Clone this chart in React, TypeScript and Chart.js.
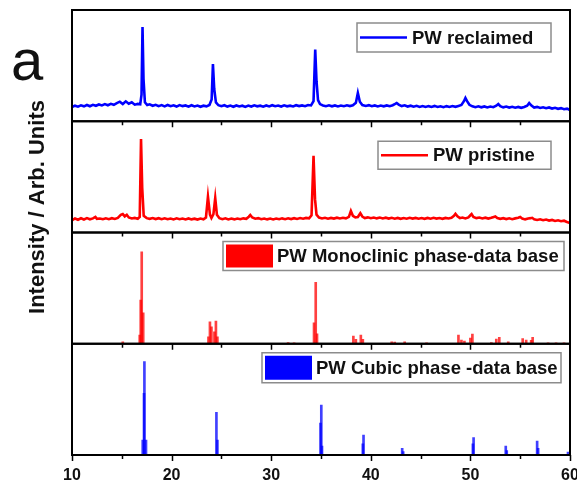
import { useEffect, useRef } from 'react';
import { Chart, registerables } from 'chart.js';

Chart.register(...registerables);

// ---- Data (2θ in degrees, intensity in arbitrary units, 0-100 per panel) ----
const xTickValues = [10, 20, 30, 40, 50, 60];

const reclaimedAngle = [
  10.0, 10.3, 10.6, 10.9, 11.2, 11.5, 11.8, 12.1, 12.4, 12.7, 13.0, 13.3, 13.6, 13.9, 14.2, 14.5, 14.8, 15.1, 15.4, 15.7,
  16.0, 16.3, 16.6, 16.85, 16.98, 17.08, 17.18, 17.32, 17.55, 17.8, 18.1, 18.4, 18.7, 19.0, 19.3, 19.6, 19.9, 20.2, 20.5, 20.8,
  21.1, 21.4, 21.7, 22.0, 22.3, 22.6, 22.9, 23.2, 23.5, 23.8, 24.02, 24.15, 24.28, 24.45, 24.7, 25.0, 25.3, 25.6, 25.9, 26.2,
  26.5, 26.8, 27.1, 27.4, 27.7, 28.0, 28.3, 28.6, 28.9, 29.2, 29.5, 29.8, 30.1, 30.4, 30.7, 31.0, 31.3, 31.6, 31.9, 32.2,
  32.5, 32.8, 33.1, 33.4, 33.7, 34.0, 34.25, 34.42, 34.55, 34.7, 34.9, 35.2, 35.5, 35.8, 36.1, 36.4, 36.7, 37.0, 37.3, 37.6,
  37.9, 38.2, 38.5, 38.7, 38.9, 39.15, 39.5, 39.8, 40.1, 40.4, 40.7, 41.0, 41.3, 41.6, 41.9, 42.2, 42.45, 42.6, 42.8, 43.1,
  43.4, 43.7, 44.0, 44.3, 44.6, 44.9, 45.2, 45.5, 45.8, 46.1, 46.4, 46.7, 47.0, 47.3, 47.6, 47.9, 48.2, 48.5, 48.8, 49.1,
  49.35, 49.5, 49.65, 49.9, 50.2, 50.5, 50.8, 51.1, 51.4, 51.7, 52.0, 52.3, 52.6, 52.8, 53.0, 53.3, 53.6, 53.9, 54.2, 54.5,
  54.8, 55.1, 55.4, 55.7, 55.9, 56.1, 56.4, 56.7, 57.0, 57.3, 57.6, 57.9, 58.2, 58.5, 58.8, 59.1, 59.4, 59.7, 60.0,
];
const reclaimedIntensity = [
  12.8, 14.0, 13.1, 14.3, 13.4, 14.6, 13.5, 14.8, 13.9, 15.1, 14.2, 15.4, 14.4, 15.7, 14.8, 16.3, 17.6, 15.5, 17.9, 15.8,
  17.0, 14.9, 15.6, 15.2, 24.0, 84.7, 38.0, 17.0, 14.6, 15.2, 13.9, 14.8, 13.6, 14.5, 13.4, 14.6, 13.5, 14.3, 13.2, 14.5,
  13.6, 14.2, 13.1, 14.4, 13.3, 14.1, 13.0, 14.0, 13.4, 14.6, 19.5, 51.5, 29.0, 17.0, 14.4, 13.5, 14.4, 13.2, 14.1, 13.0,
  14.2, 13.3, 14.0, 12.9, 14.1, 13.2, 14.3, 13.4, 14.0, 13.1, 14.2, 13.3, 14.4, 13.5, 14.1, 13.2, 14.3, 13.4, 14.0, 13.3,
  14.4, 13.6, 14.2, 13.5, 14.6, 14.2, 18.0, 64.5, 36.0, 19.0, 15.4, 14.2, 13.5, 14.3, 13.4, 14.2, 13.3, 14.1, 13.5, 14.3,
  13.6, 14.4, 16.5, 25.4, 17.5, 14.6, 13.8, 14.5, 13.5, 14.2, 13.3, 14.1, 13.4, 14.2, 13.5, 14.4, 15.6, 16.4, 15.0, 13.6,
  14.3, 13.2, 14.0, 13.1, 13.9, 12.9, 13.7, 12.8, 13.6, 12.9, 13.8, 12.8, 13.5, 12.7, 13.6, 12.9, 13.7, 13.0, 13.8, 14.6,
  18.0, 20.9, 18.3, 14.8, 13.4, 12.6, 13.4, 12.5, 13.3, 12.4, 13.2, 12.6, 14.0, 15.5, 13.6, 12.5, 13.2, 12.3, 13.0, 12.2,
  12.9, 12.1, 12.8, 14.0, 16.4, 14.3, 12.3, 12.9, 11.9, 12.6, 11.7, 12.4, 11.4, 12.1, 11.2, 11.8, 10.8, 11.3, 10.1,
];

const pristineAngle = [
  10.0, 10.3, 10.6, 10.9, 11.2, 11.5, 11.8, 12.1, 12.35, 12.5, 12.8, 13.1, 13.4, 13.7, 14.0, 14.3, 14.6, 14.9, 15.1, 15.3,
  15.5, 15.7, 16.0, 16.3, 16.6, 16.8, 16.93, 17.05, 17.2, 17.5, 17.8, 18.1, 18.4, 18.7, 19.0, 19.3, 19.6, 19.9, 20.2, 20.5,
  20.8, 21.1, 21.4, 21.7, 22.0, 22.3, 22.6, 22.9, 23.2, 23.45, 23.65, 23.85, 24.0, 24.2, 24.38, 24.55, 24.8, 25.1, 25.4, 25.7,
  26.0, 26.3, 26.6, 26.9, 27.2, 27.5, 27.75, 27.9, 28.1, 28.4, 28.7, 29.0, 29.3, 29.6, 29.9, 30.2, 30.5, 30.8, 31.1, 31.4,
  31.7, 32.0, 32.3, 32.6, 32.9, 33.2, 33.5, 33.8, 34.05, 34.25, 34.4, 34.55, 34.8, 35.1, 35.4, 35.7, 36.0, 36.3, 36.6, 36.9,
  37.2, 37.5, 37.8, 38.0, 38.2, 38.45, 38.7, 38.95, 39.15, 39.4, 39.7, 40.0, 40.3, 40.6, 40.9, 41.2, 41.5, 41.8, 42.1, 42.4,
  42.7, 43.0, 43.3, 43.6, 43.9, 44.2, 44.5, 44.8, 45.1, 45.4, 45.7, 46.0, 46.3, 46.6, 46.9, 47.2, 47.5, 47.8, 48.1, 48.35,
  48.5, 48.7, 48.95, 49.2, 49.5, 49.8, 50.0, 50.12, 50.3, 50.6, 50.9, 51.2, 51.5, 51.8, 52.1, 52.35, 52.5, 52.7, 53.0, 53.3,
  53.6, 53.9, 54.2, 54.5, 54.8, 55.0, 55.2, 55.5, 55.8, 56.05, 56.2, 56.4, 56.7, 57.0, 57.3, 57.6, 57.9, 58.2, 58.5, 58.8,
  59.1, 59.4, 59.7, 60.0,
];
const pristineIntensity = [
  11.0, 12.6, 11.5, 12.8, 11.7, 12.9, 11.9, 12.7, 14.0, 12.3, 12.6, 11.9, 12.8, 12.0, 12.9, 12.2, 13.1, 15.8, 16.6, 14.5,
  15.9, 13.5, 12.6, 13.1, 12.4, 14.0, 84.0, 40.0, 15.0, 12.9, 12.3, 13.0, 12.1, 12.9, 12.0, 12.8, 11.9, 12.6, 11.8, 12.7,
  11.9, 12.5, 11.7, 12.6, 11.8, 12.4, 11.6, 12.5, 11.9, 13.5, 32.2, 16.0, 13.0, 16.5, 31.0, 16.0, 12.9, 12.0, 12.8, 11.7,
  12.5, 11.8, 12.6, 11.9, 12.7, 12.3, 14.2, 15.7, 13.5, 12.4, 12.9, 11.9, 12.6, 11.8, 12.5, 11.7, 12.6, 11.9, 12.7, 12.0,
  12.8, 12.1, 12.9, 12.2, 13.0, 12.4, 13.1, 12.8, 15.5, 69.0, 30.0, 16.0, 13.4, 12.6, 13.2, 12.4, 13.1, 12.5, 13.3, 12.6,
  13.2, 12.7, 14.0, 19.3, 15.0, 13.6, 13.9, 17.3, 14.4, 13.0, 13.6, 12.8, 13.5, 12.7, 13.4, 12.6, 13.3, 12.5, 13.2, 12.4,
  13.1, 12.3, 13.0, 12.4, 13.2, 12.5, 13.1, 12.4, 13.0, 12.3, 13.1, 12.4, 13.2, 12.5, 13.0, 12.3, 13.1, 12.6, 13.3, 15.0,
  16.8, 14.5, 12.9, 13.5, 12.7, 13.6, 15.5, 16.6, 14.0, 12.9, 13.4, 12.6, 13.3, 12.5, 13.2, 14.0, 14.4, 13.0, 12.3, 12.9,
  12.1, 12.8, 12.0, 12.7, 13.2, 13.9, 12.6, 11.8, 12.5, 12.9, 13.2, 11.9, 11.3, 11.9, 11.0, 11.6, 10.7, 11.3, 10.4, 11.0,
  10.1, 10.6, 9.5, 8.5,
];

const monoclinicAngle = [
  15.1, 16.8, 16.9, 17.0, 17.15, 23.7, 23.85, 24.0, 24.3, 24.45, 24.6, 31.7, 32.3, 34.3, 34.47, 34.6, 38.25, 38.5, 39.0, 39.2,
  42.1, 42.4, 43.4, 45.6, 48.8, 49.1, 49.4, 50.0, 50.2, 52.1, 52.6, 52.9, 53.8, 55.25, 55.6, 56.1, 56.25, 57.8, 58.6, 59.4,
];
const monoclinicIntensity = [
  1.8, 7.9, 39.3, 82.7, 27.9, 6.3, 19.8, 15.3, 10.8, 20.4, 6.3, 1.0, 0.8, 18.9, 55.2, 9.0, 7.0, 4.0, 7.9, 4.0,
  1.8, 1.6, 1.8, 0.8, 7.9, 3.4, 2.5, 5.0, 8.8, 1.0, 4.3, 5.7, 1.8, 4.6, 3.4, 3.0, 5.8, 0.8, 0.8, 0.8,
];

const cubicAngle = [
  17.1, 17.23, 17.27, 17.43, 24.5, 24.6, 34.95, 35.03, 35.1, 39.2, 39.27, 43.15, 43.25, 50.25, 50.32, 53.55, 53.65, 56.7, 56.8, 59.8,
];
const cubicIntensity = [
  13.5, 55.4, 83.9, 13.5, 38.4, 13.5, 28.8, 44.9, 8.0, 10.0, 18.0, 6.0, 3.0, 10.0, 15.6, 8.1, 4.0, 12.6, 6.0, 2.7,
];

const seriesLabels = ['PW reclaimed', 'PW pristine', 'PW Monoclinic phase-data base', 'PW Cubic phase -data base'];
const yTitle = 'Intensity / Arb. Units';
const panelLetter = 'a';

const BLUE = '#0000ff';
const RED = '#ff0000';
const FONT = '"Liberation Sans", Arial, sans-serif';

const pairs = (xs: number[], ys: number[]) => xs.map((x, i) => ({ x, y: ys[i] }));

// top to bottom
const panelIds = ['yRec', 'yPri', 'yMono', 'yCub'];

const yScale = () => ({
  type: 'linear' as const,
  min: 0,
  max: 100,
  stack: 'xrd',
  stackWeight: 1,
  position: 'left' as const,
  offset: false,
  grid: { display: false },
  border: { display: false },
  ticks: { display: false },
  afterFit: (s: any) => {
    s.width = 0;
  },
});

const decorPlugin = {
  id: 'decor',
  afterDraw(chart: any) {
    const ctx = chart.ctx as CanvasRenderingContext2D;
    const area = chart.chartArea;
    const xs = chart.scales.x;
    const panels = panelIds.map((id) => chart.scales[id]);
    ctx.save();
    // panel frames
    ctx.strokeStyle = '#000';
    ctx.lineWidth = 2;
    panels.forEach((p: any) => {
      ctx.strokeRect(area.left, p.top, area.right - area.left, p.bottom - p.top);
    });
    // ticks
    ctx.lineWidth = 1.5;
    for (let v = 10; v <= 60; v += 5) {
      const px = Math.round(xs.getPixelForValue(v)) + 0.5;
      const major = v % 10 === 0;
      if (v > 10 && v < 60) {
        panels.slice(1).forEach((p: any) => {
          ctx.beginPath();
          ctx.moveTo(px, p.top);
          ctx.lineTo(px, p.top + (major ? 6 : 4));
          ctx.stroke();
        });
      }
      ctx.beginPath();
      ctx.moveTo(px, area.bottom);
      ctx.lineTo(px, area.bottom + (major ? 6 : 4));
      ctx.stroke();
    }
    // legends
    const legends = [
      { panel: 0, left: 357, dy: 13, w: 194, h: 29, kind: 'line', color: BLUE },
      { panel: 1, left: 378, dy: 20, w: 173, h: 28, kind: 'line', color: RED },
      { panel: 2, left: 223, dy: 9, w: 341, h: 29, kind: 'box', color: RED },
      { panel: 3, left: 262, dy: 9, w: 299, h: 30, kind: 'box', color: BLUE },
    ];
    legends.forEach((lg, i) => {
      const top = panels[lg.panel].top + lg.dy;
      ctx.fillStyle = '#fff';
      ctx.fillRect(lg.left, top, lg.w, lg.h);
      ctx.strokeStyle = '#8c8c8c';
      ctx.lineWidth = 1.5;
      ctx.strokeRect(lg.left, top, lg.w, lg.h);
      const cy = top + lg.h / 2;
      let textX;
      if (lg.kind === 'line') {
        ctx.strokeStyle = lg.color;
        ctx.lineWidth = 2.5;
        ctx.beginPath();
        ctx.moveTo(lg.left + 3, cy);
        ctx.lineTo(lg.left + 50, cy);
        ctx.stroke();
        textX = lg.left + 55;
      } else {
        ctx.fillStyle = lg.color;
        ctx.fillRect(lg.left + 3, top + 3, 47, lg.h - 6);
        textX = lg.left + 54;
      }
      ctx.fillStyle = '#111';
      ctx.font = `bold 18.5px ${FONT}`;
      ctx.textAlign = 'left';
      ctx.textBaseline = 'middle';
      ctx.fillText(seriesLabels[i], textX, cy + 1);
    });
    // y title
    ctx.save();
    ctx.translate(38, 207);
    ctx.rotate(-Math.PI / 2);
    ctx.fillStyle = '#111';
    ctx.font = `bold 22px ${FONT}`;
    ctx.textAlign = 'center';
    ctx.textBaseline = 'middle';
    ctx.fillText(yTitle, 0, 0);
    ctx.restore();
    // panel letter
    ctx.fillStyle = '#111';
    ctx.font = `58px ${FONT}`;
    ctx.textAlign = 'left';
    ctx.textBaseline = 'alphabetic';
    ctx.fillText(panelLetter, 11, 80);
    ctx.restore();
  },
};

export default function App() {
  const ref = useRef<HTMLCanvasElement>(null);
  useEffect(() => {
    document.body.style.margin = '0';
    const chart = new Chart(ref.current!, {
      type: 'line',
      data: {
        datasets: [
          {
            type: 'line',
            label: seriesLabels[0],
            data: pairs(reclaimedAngle, reclaimedIntensity),
            yAxisID: 'yRec',
            borderColor: BLUE,
            borderWidth: 2.6,
            pointRadius: 0,
            tension: 0,
          },
          {
            type: 'line',
            label: seriesLabels[1],
            data: pairs(pristineAngle, pristineIntensity),
            yAxisID: 'yPri',
            borderColor: RED,
            borderWidth: 2.6,
            pointRadius: 0,
            tension: 0,
          },
          {
            type: 'bar',
            label: seriesLabels[2],
            data: pairs(monoclinicAngle, monoclinicIntensity),
            yAxisID: 'yMono',
            backgroundColor: 'rgba(255,0,0,0.75)',
            barThickness: 2,
            grouped: false,
          } as any,
          {
            type: 'bar',
            label: seriesLabels[3],
            data: pairs(cubicAngle, cubicIntensity),
            yAxisID: 'yCub',
            backgroundColor: 'rgba(0,0,255,0.75)',
            barThickness: 2,
            grouped: false,
          } as any,
        ],
      },
      options: {
        responsive: false,
        animation: false,
        layout: { padding: { left: 72, right: 7, top: 10, bottom: 0 } },
        plugins: { legend: { display: false }, tooltip: { enabled: false } },
        scales: {
          x: {
            type: 'linear',
            min: 10,
            max: 60,
            offset: false,
            position: 'bottom',
            grid: { display: false, drawTicks: false },
            border: { display: false },
            afterBuildTicks: (s: any) => {
              s.ticks = xTickValues.map((v) => ({ value: v }));
            },
            ticks: {
              autoSkip: false,
              maxRotation: 0,
              padding: 11,
              color: '#111',
              font: { family: FONT, size: 16, weight: 'bold' },
            },
            afterFit: (s: any) => {
              s.height = 27;
              s.paddingLeft = 0;
              s.paddingRight = 0;
            },
          },
          // stacked scales are laid out bottom-up in definition order
          yCub: yScale(),
          yMono: yScale(),
          yPri: yScale(),
          yRec: yScale(),
        } as any,
      },
      plugins: [decorPlugin],
    });
    return () => chart.destroy();
  }, []);
  return (
    <div style={{ position: 'fixed', left: 0, top: 0, width: 577, height: 482, background: '#fff' }}>
      <canvas ref={ref} width={577} height={482} style={{ display: 'block' }} />
    </div>
  );
}
